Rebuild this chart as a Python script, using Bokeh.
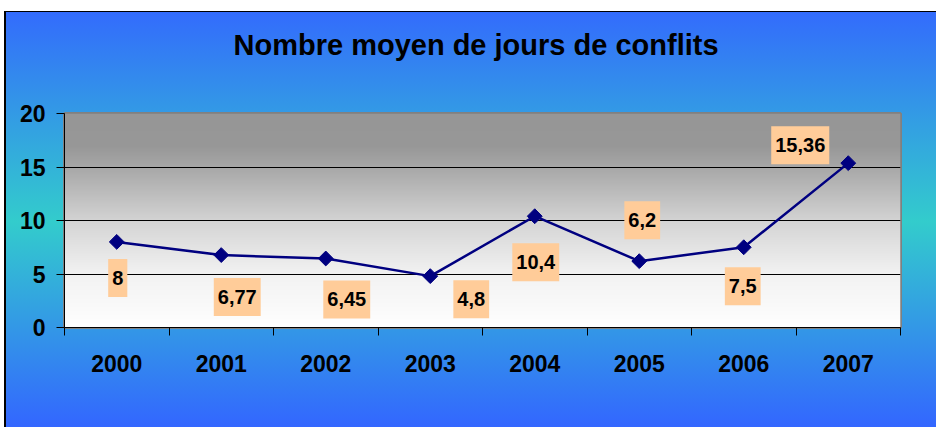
import numpy as np
from bokeh.plotting import figure
from bokeh.models import FixedTicker, ColumnDataSource, Range1d, Title
from bokeh.core.properties import value
from bokeh.embed import file_html
from bokeh.resources import INLINE

# ---- data ----
years = ["2000", "2001", "2002", "2003", "2004", "2005", "2006", "2007"]
jours = [8, 6.77, 6.45, 4.8, 10.4, 6.2, 7.5, 15.36]
y_ticks = [0, 5, 10, 15, 20]
title_text = "Nombre moyen de jours de conflits"

# ---- style: label offsets in screen pixels (dx right, dy down) ----
label_dx = [1, 16, 21, 41, 1, 3, -1, -48]
label_dy = [36, 42, 41, 23, 46, -41, 39, -18]

FONT = "Liberation Sans"
n = len(years)
xpos = [i + 0.5 for i in range(n)]
labels = [f"{v:g}".replace(".", ",") for v in jours]

p = figure(width=936, height=427, x_range=Range1d(0, n), y_range=Range1d(0, 20),
           output_backend="svg", toolbar_location=None,
           min_border_left=64, min_border_right=36, min_border_top=0, min_border_bottom=100)
p.border_fill_alpha = 0
p.background_fill_color = "white"
p.styles = {
    "background": "linear-gradient(to bottom, #3366FF 0%, #33CCCC 52%, #3366FF 100%)",
    "box-shadow": "inset 0 11px 0 0 #FFFFFF, inset 4px 0 0 0 #FFFFFF, inset 6px 12px 0 0 #000000",
}
p.outline_line_color = "#808080"
p.outline_line_width = 3

# plot-area gray-to-white gradient (decoration)
N = 215
frac = np.linspace(0, 1, N)
g = np.interp(frac, [0, 0.25, 0.5, 0.75, 0.85, 1.0], [255, 242, 212, 168, 152, 150]).astype(np.uint8)
img = np.zeros((N, 2), dtype=np.uint32)
view = img.view(dtype=np.uint8).reshape((N, 2, 4))
for c in range(3):
    view[:, :, c] = g[:, None]
view[:, :, 3] = 255
p.image_rgba(image=[img], x=0, y=0, dw=n, dh=20, level="image")

# grid
p.xgrid.visible = False
p.ygrid.ticker = FixedTicker(ticks=y_ticks)
p.ygrid.grid_line_color = "black"
p.ygrid.grid_line_width = 1

# y axis
p.yaxis.ticker = FixedTicker(ticks=y_ticks)
p.yaxis.major_tick_out = 8
p.yaxis.major_tick_in = 0
p.yaxis.minor_tick_out = 0
p.yaxis.minor_tick_in = 0
p.yaxis.axis_line_color = "black"
p.yaxis.major_tick_line_color = "black"
p.yaxis.major_label_standoff = 11
p.yaxis.major_label_text_font = FONT
p.yaxis.major_label_text_font_style = "bold"
p.yaxis.major_label_text_font_size = "23px"
p.yaxis.major_label_text_color = "black"

# x axis: labels at category centres, ticks at boundaries
p.xaxis.ticker = FixedTicker(ticks=xpos, minor_ticks=list(range(n + 1)))
p.xaxis.major_label_overrides = {x: y for x, y in zip(xpos, years)}
p.xaxis.major_tick_out = 0
p.xaxis.major_tick_in = 0
p.xaxis.minor_tick_out = 8
p.xaxis.minor_tick_in = 0
p.xaxis.minor_tick_line_color = "black"
p.xaxis.axis_line_color = "black"
p.xaxis.major_label_standoff = 19
p.xaxis.major_label_text_font = FONT
p.xaxis.major_label_text_font_style = "bold"
p.xaxis.major_label_text_font_size = "23px"
p.xaxis.major_label_text_color = "black"

# series
p.line(xpos, jours, line_color="#000080", line_width=2.5)
p.scatter(xpos, jours, marker="square", angle=np.pi / 4, size=10.5,
          fill_color="#000080", line_color="#000080")

src = ColumnDataSource(dict(x=xpos, y=jours, text=labels, dx=label_dx, dy=label_dy))
p.text(x="x", y="y", text="text", x_offset="dx", y_offset="dy", source=src,
       text_align="center", text_baseline="middle",
       text_font=value(FONT), text_font_style="bold", text_font_size="20px",
       text_color="black", background_fill_color="#FFCC99",
       padding=dict(left=4, right=4, top=12, bottom=12))

# real title (outer) + spacer title (added, sits next to the frame)
p.title.text = title_text
p.title.align = "left"
p.title.offset = 169
p.title.text_font = FONT
p.title.text_font_style = "bold"
p.title.text_font_size = "29px"
p.title.text_color = "black"
p.title.standoff = 52

spacer = Title(text=" ", text_font_size="1px", standoff=24)
p.add_layout(spacer, "above")

open("out.html", "w").write(file_html(p, INLINE))
